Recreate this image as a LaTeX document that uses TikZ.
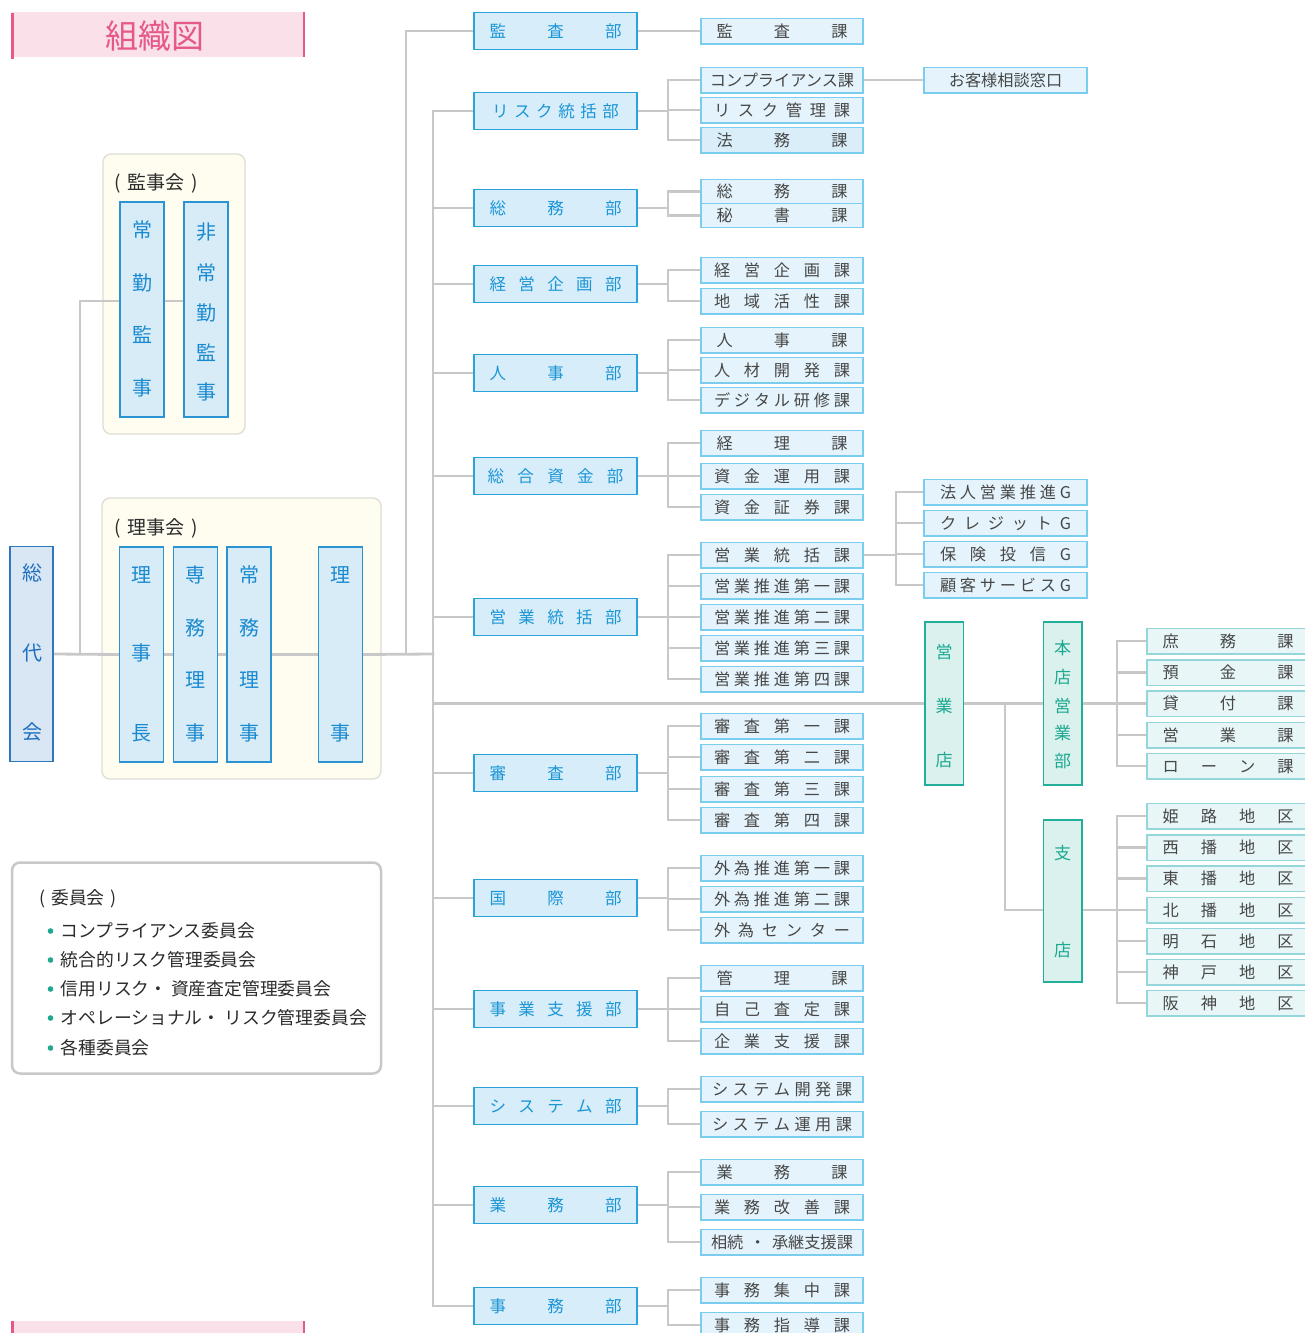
\documentclass[tikz,border=0pt]{standalone}
\usepackage{fontspec}
\setmainfont{Noto Sans CJK JP}
\definecolor{linec}{HTML}{C8C8C8}
\definecolor{deptb}{HTML}{2AA3DC}
\definecolor{deptf}{HTML}{D7EDF9}
\definecolor{deptt}{HTML}{1B95D6}
\definecolor{sectb}{HTML}{7ACDEE}
\definecolor{sectf}{HTML}{E5F4FC}
\definecolor{sectt}{HTML}{474747}
\definecolor{execb}{HTML}{2B93D1}
\definecolor{execf}{HTML}{D8ECF7}
\definecolor{exect}{HTML}{1A8AD0}
\definecolor{sodb}{HTML}{2F78BF}
\definecolor{sodf}{HTML}{D9E6F4}
\definecolor{sodt}{HTML}{1C6FBF}
\definecolor{tealb}{HTML}{22AE98}
\definecolor{tealf}{HTML}{DBF1ED}
\definecolor{tealt}{HTML}{1AA890}
\definecolor{tsectb}{HTML}{94D6DA}
\definecolor{tsectf}{HTML}{E8F6F7}
\definecolor{creamf}{HTML}{FFFDF0}
\definecolor{creamb}{HTML}{DDDDD5}
\definecolor{pinkf}{HTML}{FAE1E9}
\definecolor{pinkb}{HTML}{E6588A}
\definecolor{bullet}{HTML}{1FA88E}
\definecolor{dark}{HTML}{2B2B2B}
\pgfdeclarelayer{bgA}
\pgfdeclarelayer{bgB}
\pgfsetlayers{bgA,bgB,main}
\makeatletter
\newcommand\sprtxt[2]{\makebox[#1pt]{\let\sprsep\relax\@tfor\sprch:=#2\do{\sprsep\sprch\let\sprsep\hfill}}}
\makeatother
\newcommand\brn[4]{%
  \draw[conn] (#1.east) -- (bx |- #1.east);
  \draw[conn] (bx |- #2.west) -- (bx |- #3.west);
  \foreach \c in {#4} {\draw[conn] (bx |- \c.west) -- (\c.west);}
}
\begin{document}
\begin{tikzpicture}[x=1pt,y=-1pt,
  conn/.style={draw=linec, line width=2.8pt, line cap=rect},
  base/.style={rectangle, inner sep=0pt},
  dept/.style={base, draw=deptb, fill=deptf, line width=1.6pt, minimum width=163pt, minimum height=37pt, text=deptt, font=\fontsize{16.5}{18}\selectfont, text height=13.7pt, text depth=1.15pt},
  sect/.style={base, draw=sectb, fill=sectf, line width=1.5pt, minimum width=162pt, minimum height=25.5pt, text=sectt, font=\fontsize{16.2}{18}\selectfont, text height=13.4pt, text depth=1.1pt},
  grp/.style={sect, minimum width=163pt},
  tsect/.style={sect, draw=tsectb, fill=tsectf, minimum width=162pt},
  execbox/.style={base, draw=execb, fill=execf, line width=1.5pt, minimum width=44pt, minimum height=215pt},
  sodbox/.style={base, draw=sodb, fill=sodf, line width=1.5pt, minimum width=43pt, minimum height=215pt},
  tealbox/.style={base, draw=tealb, fill=tealf, line width=1.5pt, minimum width=38.5pt, minimum height=163pt},
  vch/.style={base, font=\fontsize{20}{22}\selectfont, text=exect, text height=16.6pt, text depth=1.4pt},
  tch/.style={base, font=\fontsize{17}{19}\selectfont, text=tealt, text height=14.1pt, text depth=1.2pt},
  frame/.style={rectangle, rounded corners=8pt, draw=creamb, fill=creamf, line width=1.3pt},
  lbl/.style={base, anchor=west, text=dark, font=\fontsize{19}{21}\selectfont, text height=15.8pt, text depth=1.3pt},
  item/.style={base, anchor=west, text=dark, font=\fontsize{17.8}{20}\selectfont, text height=14.8pt, text depth=1.2pt}
]
\useasboundingbox (0,0) rectangle (1305,1333);

% title
\fill[pinkf] (12,12) rectangle (305,57);
\draw[pinkb, line width=2.6pt] (12.5,13) -- (12.5,59) (304,12) -- (304,57);
\node[base, font=\fontsize{33}{35}\selectfont, text=pinkb, text height=27.4pt, text depth=2.3pt] (title) at (155,36) {組織図};
% bottom partial box
\fill[pinkf] (12,1321) rectangle (305,1340);
\draw[pinkb, line width=2.6pt] (12.5,1321) -- (12.5,1340) (304,1321) -- (304,1340);

% frames
\begin{pgfonlayer}{bgA}
\node[frame, minimum width=142pt, minimum height=280pt] (kanjikai) at (174,294) {};
\node[frame, minimum width=279pt, minimum height=281pt] (rijikai) at (241.5,638.5) {};
\end{pgfonlayer}
\node[lbl] (kjlbl) at (114,182) {(\hspace{7pt}監事会\hspace{7pt})};
\node[lbl] (rjlbl) at (114,527) {(\hspace{7pt}理事会\hspace{7pt})};

% committee box
\node[rectangle, rounded corners=8pt, draw=linec, fill=white, line width=2.5pt, minimum width=369pt, minimum height=211pt] (iinkai) at (196.5,968) {};
\node[lbl, font=\fontsize{17.8}{20}\selectfont] (iilbl) at (39,897) {(\hspace{6pt}委員会\hspace{6pt})};
\foreach \t/\y [count=\i] in {コンプライアンス委員会/931, 統合的リスク管理委員会/960, 信用リスク・ 資産査定管理委員会/989, オペレーショナル・ リスク管理委員会/1018, 各種委員会/1048}{
  \fill[bullet] (50.5,\y) circle (2.8pt);
  \node[item] (it\i) at (60.5,\y) {\t};
}

% left exec boxes
\node[sodbox] (sodai) at (31.5,654) {};
\foreach \c/\y [count=\i] in {総/573, 代/653, 会/732} \node[vch, text=sodt] (sd\i) at (33,\y) {\c};
\node[execbox] (jokin) at (142,309.5) {};
\foreach \c/\y [count=\i] in {常/230, 勤/283, 監/335, 事/388} \node[vch] (jk\i) at (142,\y) {\c};
\node[execbox] (hijokin) at (206,309.5) {};
\foreach \c/\y [count=\i] in {非/232, 常/273, 勤/313, 監/353, 事/392} \node[vch] (hj\i) at (206,\y) {\c};
\node[execbox] (rijicho) at (141.5,654.5) {};
\foreach \c/\y [count=\i] in {理/575, 事/653, 長/733} \node[vch] (rc\i) at (141.5,\y) {\c};
\node[execbox] (senmu) at (195.5,654.5) {};
\foreach \c/\y [count=\i] in {専/575, 務/628, 理/680, 事/733} \node[vch] (sm\i) at (195.5,\y) {\c};
\node[execbox] (jomu) at (249,654.5) {};
\foreach \c/\y [count=\i] in {常/575, 務/628, 理/680, 事/733} \node[vch] (jm\i) at (249,\y) {\c};
\node[execbox] (riji) at (340.5,654.5) {};
\foreach \c/\y [count=\i] in {理/575, 事/733} \node[vch] (rj\i) at (340.5,\y) {\c};

% departments
\node[dept] (kansabu) at (555.5,31) {\sprtxt{132}{監査部}};
\node[dept] (riskbu) at (555.5,111) {\sprtxt{127}{リスク統括部}};
\node[dept] (somubu) at (555.5,208) {\sprtxt{132}{総務部}};
\node[dept] (keieibu) at (555.5,284) {\sprtxt{132}{経営企画部}};
\node[dept] (jinjibu) at (555.5,373) {\sprtxt{132}{人事部}};
\node[dept] (shikinbu) at (555.5,476) {\sprtxt{136}{総合資金部}};
\node[dept] (eigyobu) at (555.5,617) {\sprtxt{132}{営業統括部}};
\node[dept] (shinsabu) at (555.5,773) {\sprtxt{132}{審査部}};
\node[dept] (kokusaibu) at (555.5,898) {\sprtxt{132}{国際部}};
\node[dept] (jigyobu) at (555.5,1009) {\sprtxt{132}{事業支援部}};
\node[dept] (sysbu) at (555.5,1106) {\sprtxt{132}{システム部}};
\node[dept] (gyomubu) at (555.5,1205) {\sprtxt{132}{業務部}};
\node[dept] (jimubu) at (555.5,1306) {\sprtxt{132}{事務部}};

% sections
\node[sect] (kansaka) at (782,31) {\sprtxt{131}{監査課}};
\node[sect] (comp) at (782,80) {コンプライアンス課};
\node[sect] (riskka) at (782,110) {\sprtxt{136}{リスク管理課}};
\node[sect, fill=deptf!80!sectf] (homu) at (782,140) {\sprtxt{131}{法務課}};
\node[sect, minimum height=24pt] (somuka) at (782,191.5) {\sprtxt{131}{総務課}};
\node[sect, minimum height=24pt] (hisho) at (782,215.5) {\sprtxt{131}{秘書課}};
\node[sect] (keieika) at (782,270) {\sprtxt{136}{経営企画課}};
\node[sect] (chiiki) at (782,301) {\sprtxt{136}{地域活性課}};
\node[sect] (jinjika) at (782,340) {\sprtxt{131}{人事課}};
\node[sect] (jinzai) at (782,370) {\sprtxt{136}{人材開発課}};
\node[sect] (digital) at (782,400) {\sprtxt{136}{デジタル研修課}};
\node[sect] (keiri) at (782,443) {\sprtxt{131}{経理課}};
\node[sect] (unyo) at (782,476) {\sprtxt{136}{資金運用課}};
\node[sect] (shoken) at (782,507) {\sprtxt{136}{資金証券課}};
\node[sect] (eitokatsu) at (782,555) {\sprtxt{136}{営業統括課}};
\node[sect] (suishin1) at (782,586) {\sprtxt{136}{営業推進第一課}};
\node[sect] (suishin2) at (782,617) {\sprtxt{136}{営業推進第二課}};
\node[sect] (suishin3) at (782,648) {\sprtxt{136}{営業推進第三課}};
\node[sect] (suishin4) at (782,679) {\sprtxt{136}{営業推進第四課}};
\node[sect] (shinsa1) at (782,726) {\sprtxt{136}{審査第一課}};
\node[sect] (shinsa2) at (782,757) {\sprtxt{136}{審査第二課}};
\node[sect] (shinsa3) at (782,789) {\sprtxt{136}{審査第三課}};
\node[sect] (shinsa4) at (782,820) {\sprtxt{136}{審査第四課}};
\node[sect] (gaitame1) at (782,868) {\sprtxt{136}{外為推進第一課}};
\node[sect] (gaitame2) at (782,899) {\sprtxt{136}{外為推進第二課}};
\node[sect] (center) at (782,930) {\sprtxt{136}{外為センター}};
\node[sect] (kanri) at (782,978) {\sprtxt{131}{管理課}};
\node[sect] (jiko) at (782,1009) {\sprtxt{136}{自己査定課}};
\node[sect] (kigyo) at (782,1041) {\sprtxt{136}{企業支援課}};
\node[sect] (sysdev) at (782,1089) {\sprtxt{140}{システム開発課}};
\node[sect] (sysop) at (782,1124) {\sprtxt{140}{システム運用課}};
\node[sect] (gyomu) at (782,1172) {\sprtxt{131}{業務課}};
\node[sect] (kaizen) at (782,1207) {\sprtxt{136}{業務改善課}};
\node[sect] (sozoku) at (782,1242) {\makebox[142pt]{相続\hfill・\hfill 承継支援課}};
\node[sect] (jimushu) at (782,1290) {\sprtxt{136}{事務集中課}};
\node[sect] (shido) at (782,1325) {\sprtxt{136}{事務指導課}};

% groups
\node[grp] (okyaku) at (1005.5,80) {お客様相談窓口};
\node[grp] (hojin) at (1005.5,492) {\sprtxt{131}{法人営業推進G}};
\node[grp] (credit) at (1005.5,523) {\sprtxt{131}{クレジットG}};
\node[grp] (hoken) at (1005.5,554) {\sprtxt{131}{保険投信G}};
\node[grp] (kokyaku) at (1005.5,585) {\sprtxt{131}{顧客サービスG}};

% teal
\node[tealbox] (eigyoten) at (944,703.5) {};
\foreach \c/\y [count=\i] in {営/652, 業/706, 店/760} \node[tch] (et\i) at (944,\y) {\c};
\node[tealbox] (honten) at (1062.5,703.5) {};
\foreach \c/\y [count=\i] in {本/648, 店/677, 営/706, 業/733, 部/761} \node[tch] (ht\i) at (1062.5,\y) {\c};
\node[tealbox, minimum height=162pt] (shiten) at (1062.5,901) {};
\foreach \c/\y [count=\i] in {支/853, 店/950} \node[tch] (st\i) at (1062.5,\y) {\c};

\node[tsect] (shomu) at (1228,641) {\sprtxt{131}{庶務課}};
\node[tsect] (yokin) at (1228,672.5) {\sprtxt{131}{預金課}};
\node[tsect] (kashi) at (1228,703.5) {\sprtxt{131}{貸付課}};
\node[tsect] (eigyoka) at (1228,735) {\sprtxt{131}{営業課}};
\node[tsect] (loan) at (1228,766) {\sprtxt{131}{ローン課}};
\node[tsect] (himeji) at (1228,816) {\sprtxt{131}{姫路地区}};
\node[tsect] (nishi) at (1228,847.5) {\sprtxt{131}{西播地区}};
\node[tsect] (higashi) at (1228,878.5) {\sprtxt{131}{東播地区}};
\node[tsect] (kita) at (1228,910) {\sprtxt{131}{北播地区}};
\node[tsect] (akashi) at (1228,941) {\sprtxt{131}{明石地区}};
\node[tsect] (kobe) at (1228,972) {\sprtxt{131}{神戸地区}};
\node[tsect] (hanshin) at (1228,1003) {\sprtxt{131}{阪神地区}};

% connectors
\begin{pgfonlayer}{bgB}
\coordinate (k80) at (80,654);
\coordinate (t406) at (406,654);
\coordinate (t433) at (433,654);
\coordinate (bx) at (668,0);
\coordinate (gx) at (896,0);
\coordinate (tx) at (1005,0);
\coordinate (sx) at (1117,0);
\draw[conn] (sodai.east) -- (rijicho.west) (rijicho.east) -- (senmu.west)
  (senmu.east) -- (jomu.west) (jomu.east) -- (riji.west) (riji.east) -- (t433);
\draw[conn] (k80) |- ([yshift=8.5pt]jokin.west);
\draw[conn] ([yshift=8.5pt]jokin.east) -- ([yshift=8.5pt]hijokin.west);
\draw[conn] (t406) |- (kansabu.west);
\draw[conn] (t433 |- riskbu.west) -- (t433 |- jimubu.west);
\foreach \d in {riskbu,somubu,keieibu,jinjibu,shikinbu,eigyobu,shinsabu,kokusaibu,jigyobu,sysbu,gyomubu,jimubu,eigyoten}
  \draw[conn] (t433 |- \d.west) -- (\d.west);
\draw[conn] (kansabu.east) -- (kansaka.west);
\brn{riskbu}{comp}{homu}{comp,riskka,homu}
\brn{somubu}{somuka}{hisho}{somuka,hisho}
\brn{keieibu}{keieika}{chiiki}{keieika,chiiki}
\brn{jinjibu}{jinjika}{digital}{jinjika,jinzai,digital}
\brn{shikinbu}{keiri}{shoken}{keiri,unyo,shoken}
\brn{eigyobu}{eitokatsu}{suishin4}{eitokatsu,suishin1,suishin2,suishin3,suishin4}
\brn{shinsabu}{shinsa1}{shinsa4}{shinsa1,shinsa2,shinsa3,shinsa4}
\brn{kokusaibu}{gaitame1}{center}{gaitame1,gaitame2,center}
\brn{jigyobu}{kanri}{kigyo}{kanri,jiko,kigyo}
\brn{sysbu}{sysdev}{sysop}{sysdev,sysop}
\brn{gyomubu}{gyomu}{sozoku}{gyomu,kaizen,sozoku}
\brn{jimubu}{jimushu}{shido}{jimushu,shido}
\draw[conn] (comp.east) -- (okyaku.west);
\draw[conn] (eitokatsu.east) -- (gx |- eitokatsu.east);
\draw[conn] (gx |- hojin.west) -- (gx |- kokyaku.west);
\foreach \c in {hojin,credit,hoken,kokyaku} \draw[conn] (gx |- \c.west) -- (\c.west);
\coordinate (shin) at ([yshift=-9pt]shiten.west);
\coordinate (shout) at ([yshift=-9pt]shiten.east);
\draw[conn] (eigyoten.east) -- (honten.west);
\draw[conn] (tx |- honten.west) |- (shin);
\draw[conn] (honten.east) -- (sx |- honten.east);
\draw[conn] (sx |- shomu.west) -- (sx |- loan.west);
\foreach \c in {shomu,yokin,kashi,eigyoka,loan} \draw[conn] (sx |- \c.west) -- (\c.west);
\draw[conn] (shout) -- (sx |- shout);
\draw[conn] (sx |- himeji.west) -- (sx |- hanshin.west);
\foreach \c in {himeji,nishi,higashi,kita,akashi,kobe,hanshin} \draw[conn] (sx |- \c.west) -- (\c.west);
\end{pgfonlayer}
\end{tikzpicture}
\end{document}
